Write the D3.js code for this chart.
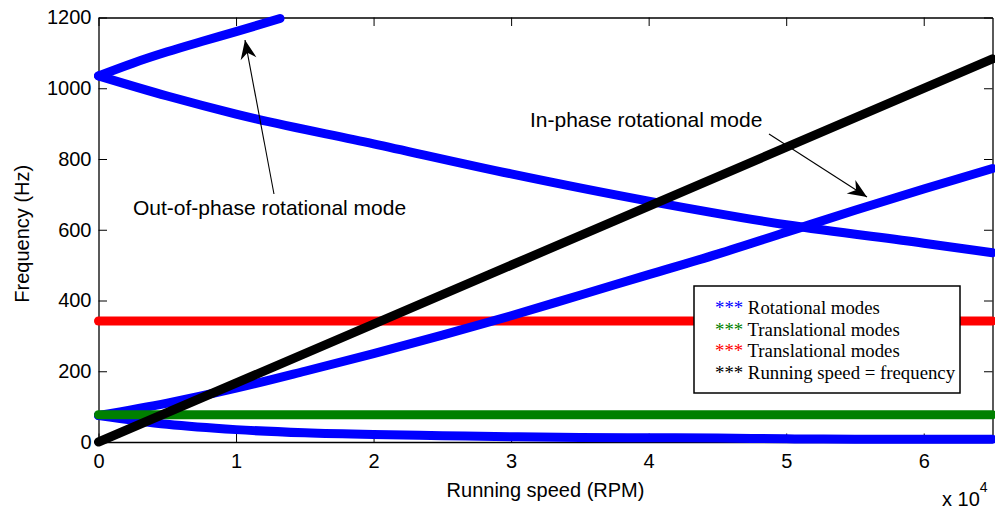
<!DOCTYPE html>
<html>
<head>
<meta charset="utf-8">
<script src="https://cdn.jsdelivr.net/npm/d3@7"></script>
<style>
  html, body { margin: 0; padding: 0; background: #fff; }
  svg { display: block; }
</style>
</head>
<body>
<svg id="chart" width="995" height="511"></svg>
<script>
// Campbell diagram: natural frequencies versus running speed

// x axis (RPM) ticks and labels (labels shown in units of 10^4)
const xTickValues = [0, 10000, 20000, 30000, 40000, 50000, 60000];
const xTickLabels = ["0", "1", "2", "3", "4", "5", "6"];
const yTickValues = [0, 200, 400, 600, 800, 1000, 1200];
const yTickLabels = ["0", "200", "400", "600", "800", "1000", "1200"];

// Out-of-phase rotational mode, forward whirl branch
const outFwdRpm = [0, 2500, 5000, 7500, 10000, 13200];
const outFwdHz  = [1035, 1071, 1103, 1132, 1160, 1197];
// Out-of-phase rotational mode, backward whirl branch
const outBwdRpm = [0, 5000, 10000, 20000, 30000, 40000, 50000, 60000, 65000];
const outBwdHz  = [1035, 978, 927, 843, 758, 681, 614, 562, 535];
// In-phase rotational mode, forward and backward branches
const inRpm    = [0, 5000, 10000, 15000, 20000, 25000, 30000, 35000, 40000, 45000, 50000, 55000, 60000, 65000];
const inFwdHz  = [75, 110, 152, 200, 250, 302, 357, 415, 473, 531, 593, 655, 715, 773];
const inBwdHz  = [75, 50, 35, 26, 21, 18, 15, 13, 12, 11, 9, 8, 8, 8];
// Translational modes (speed independent)
const transRpm   = [0, 65000];
const transLowHz = [77, 77];
const transHighHz = [342, 342];
// Running speed = frequency (Hz = RPM / 60)
const runRpm = [0, 65000];
const runHz  = [0, 1083];

const legendLabels = ["Rotational modes", "Translational modes", "Translational modes", "Running speed = frequency"];
const legendColors = ["#0000ff", "#008000", "#ff0000", "#000000"];

const svg = d3.select("#chart");
const plotL = 98.5, plotR = 992.5, plotT = 17.5, plotB = 442;

const x = d3.scaleLinear().domain([0, 65000]).range([plotL, plotR]);
const y = d3.scaleLinear().domain([0, 1200]).range([plotB, plotT]);

const sans = "'Liberation Sans', Arial, Helvetica, sans-serif";
const serif = "'Liberation Serif', 'Times New Roman', serif";

const zip = (a, b) => a.map((v, i) => [v, b[i]]);
const line = d3.line().x(d => x(d[0])).y(d => y(d[1])).curve(d3.curveMonotoneX);

const series = [
  { pts: zip(transRpm, transHighHz), color: "#ff0000" },
  { pts: zip(outFwdRpm, outFwdHz), color: "#0000ff" },
  { pts: zip(outBwdRpm, outBwdHz), color: "#0000ff" },
  { pts: zip(inRpm, inFwdHz), color: "#0000ff" },
  { pts: zip(inRpm, inBwdHz), color: "#0000ff" },
  { pts: zip(transRpm, transLowHz), color: "#008000" },
  { pts: zip(runRpm, runHz), color: "#000000" }
];

// Axes with inward ticks on all four sides
const tickLen = 8.5;
const xAxisB = d3.axisBottom(x).tickValues(xTickValues).tickFormat((d, i) => xTickLabels[i])
  .tickSizeInner(-tickLen).tickSizeOuter(0).tickPadding(12);
const xAxisT = d3.axisTop(x).tickValues(xTickValues).tickFormat("")
  .tickSizeInner(-tickLen).tickSizeOuter(0);
const yAxisL = d3.axisLeft(y).tickValues(yTickValues).tickFormat((d, i) => yTickLabels[i])
  .tickSizeInner(-tickLen).tickSizeOuter(0).tickPadding(7);
const yAxisR = d3.axisRight(y).tickValues(yTickValues).tickFormat("")
  .tickSizeInner(-tickLen).tickSizeOuter(0);

function styleAxis(g) {
  g.selectAll("path.domain").attr("stroke", "#000").attr("stroke-width", 1.3);
  g.selectAll(".tick line").attr("stroke", "#000").attr("stroke-width", 1);
  g.selectAll(".tick text").attr("fill", "#000")
    .style("font-family", sans).style("font-size", "20px");
}
svg.append("g").attr("transform", `translate(0,${plotB})`).call(xAxisB).call(styleAxis);
svg.append("g").attr("transform", `translate(0,${plotT})`).call(xAxisT).call(styleAxis);
svg.append("g").attr("transform", `translate(${plotL},0)`).call(yAxisL).call(styleAxis);
svg.append("g").attr("transform", `translate(${plotR},0)`).call(yAxisR).call(styleAxis);

// Modal curves drawn as thick marker bands
svg.append("g").selectAll("path").data(series).join("path")
  .attr("d", d => line(d.pts))
  .attr("fill", "none")
  .attr("stroke", d => d.color)
  .attr("stroke-width", 9)
  .attr("stroke-linecap", "round")
  .attr("stroke-linejoin", "round");

// Axis titles
svg.append("text")
  .attr("x", (plotL + plotR) / 2).attr("y", 497)
  .attr("text-anchor", "middle")
  .style("font-family", sans).style("font-size", "20px")
  .text("Running speed (RPM)");
svg.append("text")
  .attr("transform", `translate(29,${(plotT + plotB) / 2 + 4}) rotate(-90)`)
  .attr("text-anchor", "middle")
  .style("font-family", sans).style("font-size", "20px")
  .text("Frequency (Hz)");

// Exponent label for x axis
const expo = svg.append("text")
  .attr("x", 942).attr("y", 506)
  .style("font-family", sans).style("font-size", "20px");
expo.append("tspan").text("x 10");
expo.append("tspan").attr("dy", -14).style("font-size", "14px").text("4");

// Annotations with arrows
function arrow(x1, y1, x2, y2) {
  svg.append("line")
    .attr("x1", x1).attr("y1", y1).attr("x2", x2).attr("y2", y2)
    .attr("stroke", "#000").attr("stroke-width", 1.1);
  const ang = Math.atan2(y2 - y1, x2 - x1) * 180 / Math.PI;
  svg.append("path")
    .attr("d", "M0,0 L-19,-8 L-13,0 L-19,8 Z")
    .attr("transform", `translate(${x2},${y2}) rotate(${ang})`)
    .attr("fill", "#000");
}
svg.append("text")
  .attr("x", 133).attr("y", 215)
  .style("font-family", sans).style("font-size", "21px")
  .text("Out-of-phase rotational mode");
arrow(274, 194, 245, 40);

svg.append("text")
  .attr("x", 530).attr("y", 127)
  .style("font-family", sans).style("font-size", "21px")
  .text("In-phase rotational mode");
arrow(769, 134, 867, 197);

// Legend
const lg = svg.append("g");
lg.append("rect")
  .attr("x", 694).attr("y", 286).attr("width", 266).attr("height", 107)
  .attr("fill", "#fff").attr("stroke", "#000").attr("stroke-width", 1.5);
const rows = lg.selectAll("text").data(legendLabels).join("text")
  .attr("x", 715).attr("y", (d, i) => 314 + i * 21.6)
  .style("font-family", serif).style("font-size", "18.8px");
rows.append("tspan").attr("fill", (d, i) => legendColors[i]).text("***");
rows.append("tspan").attr("fill", "#000").text(d => " " + d);
</script>
</body>
</html>
